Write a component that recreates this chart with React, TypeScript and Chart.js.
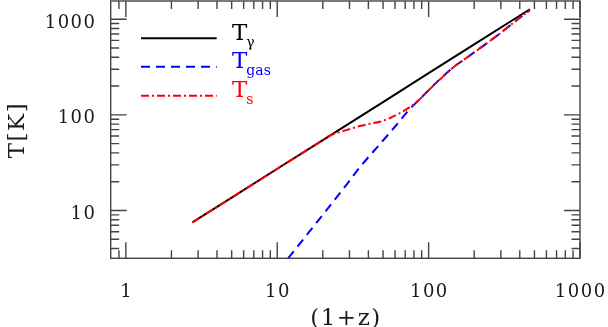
import React, { useEffect, useRef } from "react";
import { Chart, registerables } from "chart.js";

Chart.register(...registerables);

// T_gamma (CMB temperature)
const tgZ = [2.75, 5, 10, 20, 50, 100, 200, 466.3];
const tgT = [7.5, 13.6, 27.3, 54.5, 136, 273, 545, 1270];

// T_gas (kinetic temperature)
const gasZ = [11.8, 14.1, 20, 30, 35.2, 47.7, 59.9, 75.3, 87.6, 102, 118.8, 145.3, 173.6, 207.5, 253.9, 295.6, 353.1, 400.5, 466.3];
const gasT = [3.16, 4.5, 9.0, 20.4, 28.4, 49.5, 75, 115.5, 146, 187, 236, 313, 383, 469, 592, 708, 885, 1036, 1238];

// T_s (spin temperature)
const tsZ = [2.75, 5, 10, 15, 20, 22.3, 25.97, 30.23, 35.2, 40.98, 47.7, 55.55, 64.67, 75.3, 87.6, 102, 118.8, 145.3, 173.6, 207.5, 253.9, 295.6, 353.1, 400.5, 466.3];
const tsT = [7.5, 13.6, 27.2, 40.8, 54.3, 60.8, 66.1, 71.1, 76.4, 80.7, 84.7, 92.6, 104.4, 120.6, 146.2, 186, 234, 313, 383, 469, 592, 708, 885, 1036, 1238];

// axes
const xMin = 0.794;
const xMax = 1000;
const yMin = 3.162;
const yMax = 1549;
const xMajor = [1, 10, 100, 1000];
const xLabels = ["1", "10", "100", "1000"];
const xMinor = [0.9, 2, 3, 4, 5, 6, 7, 8, 9, 20, 30, 40, 50, 60, 70, 80, 90, 200, 300, 400, 500, 600, 700, 800, 900];
const yMajor = [10, 100, 1000];
const yLabels = ["10", "100", "1000"];
const yMinor = [4, 5, 6, 7, 8, 9, 20, 30, 40, 50, 60, 70, 80, 90, 200, 300, 400, 500, 600, 700, 800, 900];
const xTitle = "(1+z)";
const yTitle = "T[K]";

// legend
const legendMain = ["T", "T", "T"];
const legendSub = ["γ", "gas", "s"];
const seriesColors = ["#000000", "#0000ff", "#ff0000"];
const seriesDash: number[][] = [[], [9, 6], [8, 3, 2, 3]];

const SERIF = "'DejaVu Serif', 'Liberation Serif', serif";

const framePlugin = {
  id: "framePlugin",
  afterDraw(chart: any) {
    const { ctx, chartArea: a, scales } = chart;
    const xs = scales.x;
    const ys = scales.y;
    ctx.save();
    // frame
    ctx.strokeStyle = "#444";
    ctx.lineWidth = 1.4;
    ctx.setLineDash([]);
    ctx.strokeRect(a.left, a.top, a.right - a.left, a.bottom - a.top);
    // ticks
    ctx.beginPath();
    const xt = (v: number, len: number) => {
      const p = xs.getPixelForValue(v);
      if (p < a.left - 0.5 || p > a.right + 0.5) return;
      ctx.moveTo(p, a.bottom);
      ctx.lineTo(p, a.bottom - len);
      ctx.moveTo(p, a.top);
      ctx.lineTo(p, a.top + len);
    };
    const yt = (v: number, len: number) => {
      const p = ys.getPixelForValue(v);
      if (p < a.top - 0.5 || p > a.bottom + 0.5) return;
      ctx.moveTo(a.left, p);
      ctx.lineTo(a.left + len, p);
      ctx.moveTo(a.right, p);
      ctx.lineTo(a.right - len, p);
    };
    xMajor.forEach((v) => xt(v, 16));
    xMinor.forEach((v) => xt(v, 8));
    yMajor.forEach((v) => yt(v, 16));
    yMinor.forEach((v) => yt(v, 8.5));
    ctx.stroke();

    // tick labels
    ctx.fillStyle = "#1a1a1a";
    ctx.font = `18px ${SERIF}`;
    (ctx as any).letterSpacing = "1.5px";
    ctx.textBaseline = "alphabetic";
    ctx.textAlign = "center";
    xMajor.forEach((v, i) => {
      const p = xs.getPixelForValue(v);
      ctx.fillText(xLabels[i], p + 0.75, 296.5);
    });
    ctx.textAlign = "right";
    yMajor.forEach((v, i) => {
      const p = ys.getPixelForValue(v);
      ctx.fillText(yLabels[i], 96.5, p + 8.6);
    });

    // axis titles
    ctx.font = `23px ${SERIF}`;
    ctx.textAlign = "center";
    ctx.fillText(xTitle, 346, 325);
    ctx.save();
    ctx.translate(24, 130);
    ctx.rotate(-Math.PI / 2);
    ctx.fillText(yTitle, 0, 0);
    ctx.restore();

    // legend
    const lineY = [38.3, 66.7, 95.7];
    for (let i = 0; i < legendMain.length; i++) {
      ctx.beginPath();
      ctx.strokeStyle = seriesColors[i];
      ctx.lineWidth = 2;
      ctx.setLineDash(seriesDash[i]);
      ctx.moveTo(141, lineY[i]);
      ctx.lineTo(216.7, lineY[i]);
      ctx.stroke();
      ctx.setLineDash([]);
      ctx.fillStyle = seriesColors[i];
      ctx.textAlign = "left";
      (ctx as any).letterSpacing = "0px";
      ctx.font = `23px ${SERIF}`;
      const base = lineY[i] + 1.2;
      ctx.fillText(legendMain[i], 232, base);
      const w = ctx.measureText(legendMain[i]).width;
      ctx.font = `14px ${SERIF}`;
      ctx.fillText(legendSub[i], 232 + w - 1, base + 7.5);
    }
    ctx.restore();
  },
};

export default function App() {
  const ref = useRef<HTMLCanvasElement | null>(null);
  useEffect(() => {
    if (!ref.current) return;
    const pts = (xs: number[], ys: number[]) => xs.map((x, i) => ({ x, y: ys[i] }));
    const chart = new Chart(ref.current, {
      type: "line",
      data: {
        datasets: [
          {
            label: "T_gamma",
            data: pts(tgZ, tgT),
            borderColor: seriesColors[0],
            borderWidth: 2,
            borderDash: seriesDash[0],
            pointRadius: 0,
            fill: false,
            order: 3,
          },
          {
            label: "T_gas",
            data: pts(gasZ, gasT),
            borderColor: seriesColors[1],
            borderWidth: 2,
            borderDash: seriesDash[1],
            pointRadius: 0,
            fill: false,
            cubicInterpolationMode: "monotone",
            order: 2,
          },
          {
            label: "T_s",
            data: pts(tsZ, tsT),
            borderColor: seriesColors[2],
            borderWidth: 2,
            borderDash: seriesDash[2],
            pointRadius: 0,
            fill: false,
            cubicInterpolationMode: "monotone",
            order: 1,
          },
        ],
      },
      options: {
        responsive: false,
        animation: false,
        devicePixelRatio: 1,
        layout: { padding: { left: 110.7, right: 28, top: 1, bottom: 68.7 } },
        plugins: { legend: { display: false }, tooltip: { enabled: false } },
        scales: {
          x: { type: "logarithmic", min: xMin, max: xMax, display: false },
          y: { type: "logarithmic", min: yMin, max: yMax, display: false },
        },
      },
      plugins: [framePlugin],
    } as any);
    return () => chart.destroy();
  }, []);
  return (
    <div style={{ position: "fixed", left: 0, top: 0, width: 608, height: 327, background: "#fff" }}>
      <canvas ref={ref} width={608} height={327} style={{ display: "block" }} />
    </div>
  );
}
